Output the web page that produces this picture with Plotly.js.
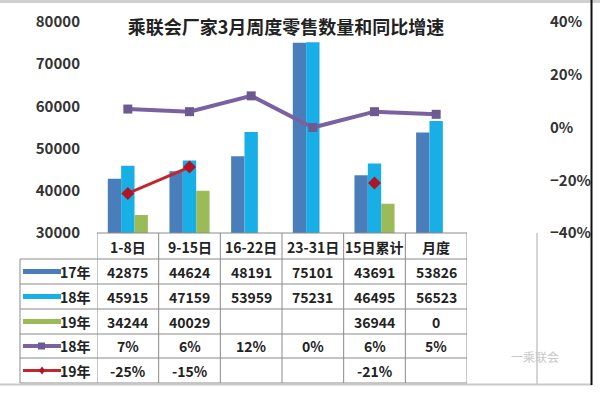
<!DOCTYPE html>
<html>
<head>
<meta charset="utf-8">
<script src="https://cdn.plot.ly/plotly-3.0.1.min.js"></script>
<style>html,body{margin:0;padding:0;background:#fff;}</style>
</head>
<body>
<div id="chart" style="width:600px;height:398px;"></div>
<script>
const categories = ['1-8日','9-15日','16-22日','23-31日','15日累计','月度'];
const sales17 = [42875,44624,48191,75101,43691,53826];
const sales18 = [45915,47159,53959,75231,46495,56523];
const sales19 = [34244,40029,null,null,36944,0];
const growth18 = [7,6,12,0,6,5];
const growth19 = [-25,-15,null,null,-21,null];
const rowLabels = ['17年','18年','19年','18年','19年'];
const titleText = '乘联会厂家3月周度零售数量和同比增速';

const C17 = '#4a7ebb', C18 = '#18aee6', C19 = '#9bbb59', CP = '#7a62a0', CR = '#c0282d';

// pixel -> paper helpers (plot area: x 97..467, y 22..233)
const L = 97, R = 467, T = 22, B = 233;
const px = x => (x - L) / (R - L);
const py = y => (B - y) / (B - T);

const FONT = 'Noto Sans CJK SC, Noto Sans, sans-serif';

const traces = [
  {type:'bar', name:'17年', x:categories, y:sales17, marker:{color:C17}, yaxis:'y'},
  {type:'bar', name:'18年', x:categories, y:sales18, marker:{color:C18}, yaxis:'y'},
  {type:'bar', name:'19年', x:categories, y:sales19, marker:{color:C19}, yaxis:'y'},
  {type:'scatter', mode:'lines+markers', name:'18年增速', x:categories, y:growth18, yaxis:'y2',
   line:{color:CP, width:4}, marker:{symbol:'square', size:9, color:'#6d5a92'}},
  {type:'scatter', mode:'lines+markers', name:'19年增速', x:categories, y:growth19, yaxis:'y2',
   line:{color:CR, width:3}, marker:{symbol:'diamond', size:10, color:'#b01525'}}
];

// table geometry
const rowEdges = [233, 259, 284, 309, 334, 358, 383];
const shapes = [];
const annotations = [];
const lineStyle = {color:'#8a8a8a', width:1};

// horizontal lines
shapes.push({type:'line', xref:'paper', yref:'paper', x0:0, x1:1, y0:py(233), y1:py(233), line:lineStyle});
for (let r = 1; r < rowEdges.length; r++) {
  shapes.push({type:'line', xref:'paper', yref:'paper', x0:px(20), x1:1, y0:py(rowEdges[r]), y1:py(rowEdges[r]), line:lineStyle});
}
// vertical lines at category boundaries
for (let i = 0; i <= categories.length; i++) {
  shapes.push({type:'line', xref:'x', yref:'paper', x0:i-0.5, x1:i-0.5, y0:py(233), y1:py(383), line:lineStyle});
}
shapes.push({type:'line', xref:'paper', yref:'paper', x0:px(20), x1:px(20), y0:py(259), y1:py(383), line:lineStyle});
// outer chart frame pieces
shapes.push({type:'line', xref:'paper', yref:'paper', x0:px(537), x1:px(537), y0:py(233), y1:py(384), line:{color:'#aaaaaa', width:1}});
shapes.push({type:'line', xref:'paper', yref:'paper', x0:px(0), x1:px(592), y0:py(384.5), y1:py(384.5), line:{color:'#c8c8c8', width:2}});
shapes.push({type:'rect', xref:'paper', yref:'paper', x0:px(0), x1:px(600), y0:py(0), y1:py(3), fillcolor:'#d0d0d0', line:{width:0}});
shapes.push({type:'line', xref:'paper', yref:'paper', x0:px(591.5), x1:px(591.5), y0:py(0), y1:py(385), line:{color:'#111', width:2}});

// header row
const cellFont = {family:FONT, size:14, color:'#222', weight:'bold'};
categories.forEach((c, i) => {
  annotations.push({xref:'x', yref:'paper', x:i, y:py(246.5), text:c, showarrow:false, font:cellFont, xanchor:'center', yanchor:'middle'});
});
const rowData = [
  sales17.map(v => v == null ? '' : String(v)),
  sales18.map(v => v == null ? '' : String(v)),
  sales19.map(v => v == null ? '' : String(v)),
  growth18.map(v => v == null ? '' : v + '%'),
  growth19.map(v => v == null ? '' : v + '%')
];
rowData.forEach((row, r) => {
  const yc = (rowEdges[r+1] + rowEdges[r+2]) / 2;
  row.forEach((t, i) => {
    if (t !== '') annotations.push({xref:'x', yref:'paper', x:i, y:py(yc), text:t, showarrow:false, font:cellFont, xanchor:'center', yanchor:'middle'});
  });
  annotations.push({xref:'paper', yref:'paper', x:px(93), y:py(yc), text:rowLabels[r], showarrow:false, font:cellFont, xanchor:'right', yanchor:'middle'});
});
// legend keys in row header
const keyColors = [C17, C18, C19];
keyColors.forEach((col, r) => {
  const yc = (rowEdges[r+1] + rowEdges[r+2]) / 2;
  shapes.push({type:'rect', xref:'paper', yref:'paper', x0:px(23), x1:px(61), y0:py(yc-2.5), y1:py(yc+2.5), fillcolor:col, line:{width:0}});
});
{
  const yc = (rowEdges[4] + rowEdges[5]) / 2;
  shapes.push({type:'line', xref:'paper', yref:'paper', x0:px(23), x1:px(61), y0:py(yc), y1:py(yc), line:{color:CP, width:4}});
  shapes.push({type:'rect', xref:'paper', yref:'paper', x0:px(38), x1:px(45), y0:py(yc-3.5), y1:py(yc+3.5), fillcolor:'#6d5a92', line:{width:0}});
}
{
  const yc = (rowEdges[5] + rowEdges[6]) / 2;
  shapes.push({type:'line', xref:'paper', yref:'paper', x0:px(23), x1:px(61), y0:py(yc), y1:py(yc), line:{color:CR, width:3}});
  shapes.push({type:'path', xref:'paper', yref:'paper',
    path:`M ${px(42)} ${py(yc-4)} L ${px(45)} ${py(yc)} L ${px(42)} ${py(yc+4)} L ${px(39)} ${py(yc)} Z`,
    fillcolor:'#b01525', line:{width:0}});
}
// watermark
annotations.push({xref:'paper', yref:'paper', x:px(535), y:py(356), text:'一乘联会', showarrow:false,
  font:{family:FONT, size:12, color:'#c8c8c8'}, xanchor:'center', yanchor:'middle'});

const tickFont = {family:FONT, size:15, color:'#333', weight:'bold'};
const layout = {
  width:600, height:398,
  margin:{l:L, r:600-R, t:T, b:398-B, pad:0},
  paper_bgcolor:'#fff', plot_bgcolor:'#fff',
  showlegend:false,
  barmode:'group', bargap:0.35, bargroupgap:0,
  title:{text:titleText, x:286/600, xanchor:'center', y:1-28/398, yanchor:'middle', yref:'container',
         font:{family:FONT, size:18, color:'#222', weight:'bold'}},
  xaxis:{type:'category', range:[-0.5, 5.5], showticklabels:false, showgrid:false, zeroline:false, showline:false, ticks:''},
  yaxis:{range:[30000, 80000], dtick:10000, tickformat:'d', showgrid:false, zeroline:false, showline:false,
         ticks:'', tickfont:tickFont, ticklabelstandoff:16},
  yaxis2:{range:[-40, 40], dtick:20, ticksuffix:'%', overlaying:'y', side:'right', showgrid:false, zeroline:false,
          showline:false, ticks:'', tickfont:tickFont, ticklabelstandoff:82},
  shapes:shapes,
  annotations:annotations
};
Plotly.newPlot('chart', traces, layout, {displayModeBar:false, staticPlot:true});
</script>
</body>
</html>
